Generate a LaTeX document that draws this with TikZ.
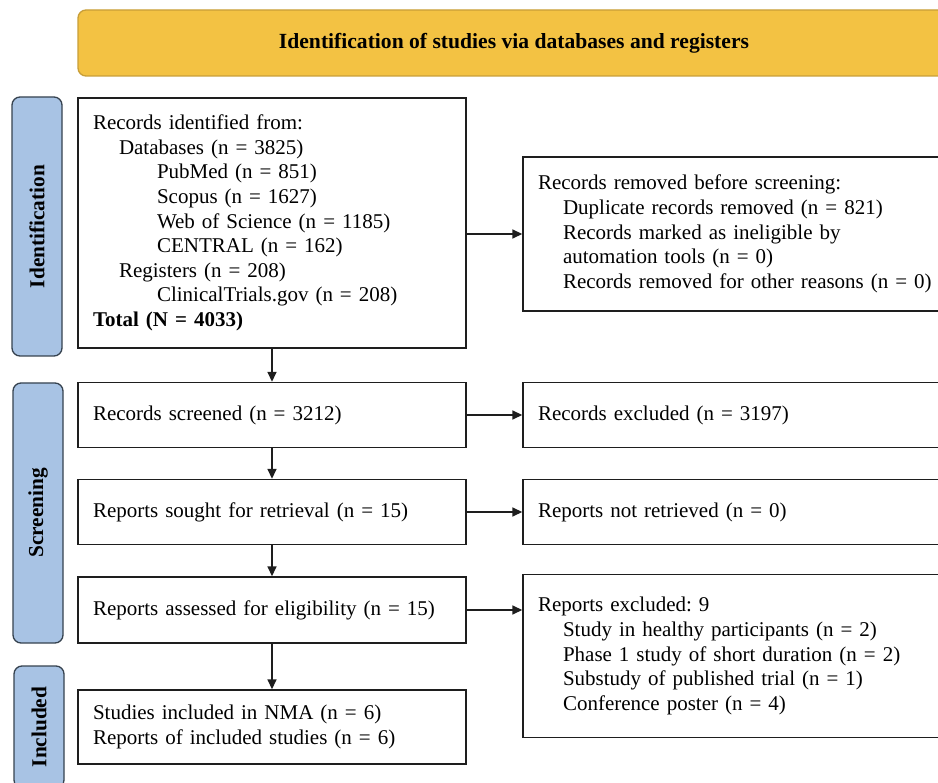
\documentclass[tikz,border=0pt]{standalone}
\usepackage{fontspec}
\setmainfont{Liberation Serif}
\usetikzlibrary{positioning,arrows.meta}
\definecolor{bannerfill}{HTML}{F3C243}
\definecolor{bannerline}{HTML}{C89E38}
\definecolor{sidefill}{HTML}{A8C3E4}
\definecolor{sideline}{HTML}{36424F}
\definecolor{boxline}{HTML}{1E1E1E}
\frenchspacing

\begin{document}
\begin{tikzpicture}[
  x=1pt, y=1pt,
  every node/.style={font=\fontsize{21}{24.6}\selectfont, inner sep=0pt},
  box/.style={draw=boxline, line width=1.4pt, fill=white, minimum width=388pt, text width=358pt, align=left},
  sidebox/.style={draw=boxline, line width=1.4pt, fill=white, minimum width=430pt, text width=400pt, align=left},
  banner/.style={draw=bannerline, line width=1.3pt, fill=bannerfill, rounded corners=8pt, minimum width=872pt, minimum height=66pt, font=\fontsize{21.6}{24}\selectfont\bfseries},
  phase/.style={draw=sideline, line width=1.3pt, fill=sidefill, rounded corners=8pt, rotate=90, minimum height=50pt, font=\fontsize{21.3}{24}\selectfont\bfseries},
  edge/.style={draw=boxline, line width=1.6pt, -{Triangle[length=10pt,width=9pt]}}
]
\useasboundingbox (0,0) rectangle (938,-783);
\clip (0,0) rectangle (938,-783);

\node[banner] (head) at (514,-43) {Identification of studies via databases and registers};

\node[phase, minimum width=259pt] (ident)  at (37,-226.5) {Identification};
\node[phase, minimum width=260pt] (screen) at (38,-513)   {Screening};
\node[phase, minimum width=122pt] (incl)   at (39,-727)   {Included};

\node[box, minimum height=250pt] (found) at (272,-223) {Records identified from:\\
  \hspace*{26pt}Databases (n = 3825)\\
  \hspace*{64pt}PubMed (n = 851)\\
  \hspace*{64pt}Scopus (n = 1627)\\
  \hspace*{64pt}Web of Science (n = 1185)\\
  \hspace*{64pt}CENTRAL (n = 162)\\
  \hspace*{26pt}Registers (n = 208)\\
  \hspace*{64pt}ClinicalTrials.gov (n = 208)\\
  \textbf{Total (N = 4033)}};
\node[box, minimum height=65pt] (screened) at (272,-415) {Records screened (n = 3212)};
\node[box, minimum height=65pt] (sought)   at (272,-512) {Reports sought for retrieval (n = 15)};
\node[box, minimum height=66pt] (assessed) at (272,-610) {Reports assessed for eligibility (n = 15)};
\node[box, minimum height=74pt] (studies)  at (272,-727) {Studies included in NMA (n = 6)\\
  Reports of included studies (n = 6)};

\node[sidebox, minimum height=154pt] (removed) at (738,-234) {Records removed before screening:\\
  \hspace*{25pt}Duplicate records removed (n = 821)\\
  \hspace*{25pt}Records marked as ineligible by\\
  \hspace*{25pt}automation tools (n = 0)\\
  \hspace*{25pt}Records removed for other reasons (n = 0)};
\node[sidebox, minimum height=65pt] (excluded)  at (738,-415) {Records excluded (n = 3197)};
\node[sidebox, minimum height=65pt] (notfound)  at (738,-512) {Reports not retrieved (n = 0)};
\node[sidebox, minimum height=163pt] (rejected) at (738,-656) {Reports excluded: 9\\
  \hspace*{25pt}Study in healthy participants (n = 2)\\
  \hspace*{25pt}Phase 1 study of short duration (n = 2)\\
  \hspace*{25pt}Substudy of published trial (n = 1)\\
  \hspace*{25pt}Conference poster (n = 4)};

\draw[edge] (found) -- (screened);
\draw[edge] (screened) -- (sought);
\draw[edge] (sought) -- (assessed);
\draw[edge] (assessed) -- (studies);
\draw[edge] (found.east |- removed.west) -- (removed.west);
\draw[edge] (screened) -- (excluded);
\draw[edge] (sought) -- (notfound);
\draw[edge] (assessed.east) -- (assessed.east -| rejected.west);
\end{tikzpicture}
\end{document}
